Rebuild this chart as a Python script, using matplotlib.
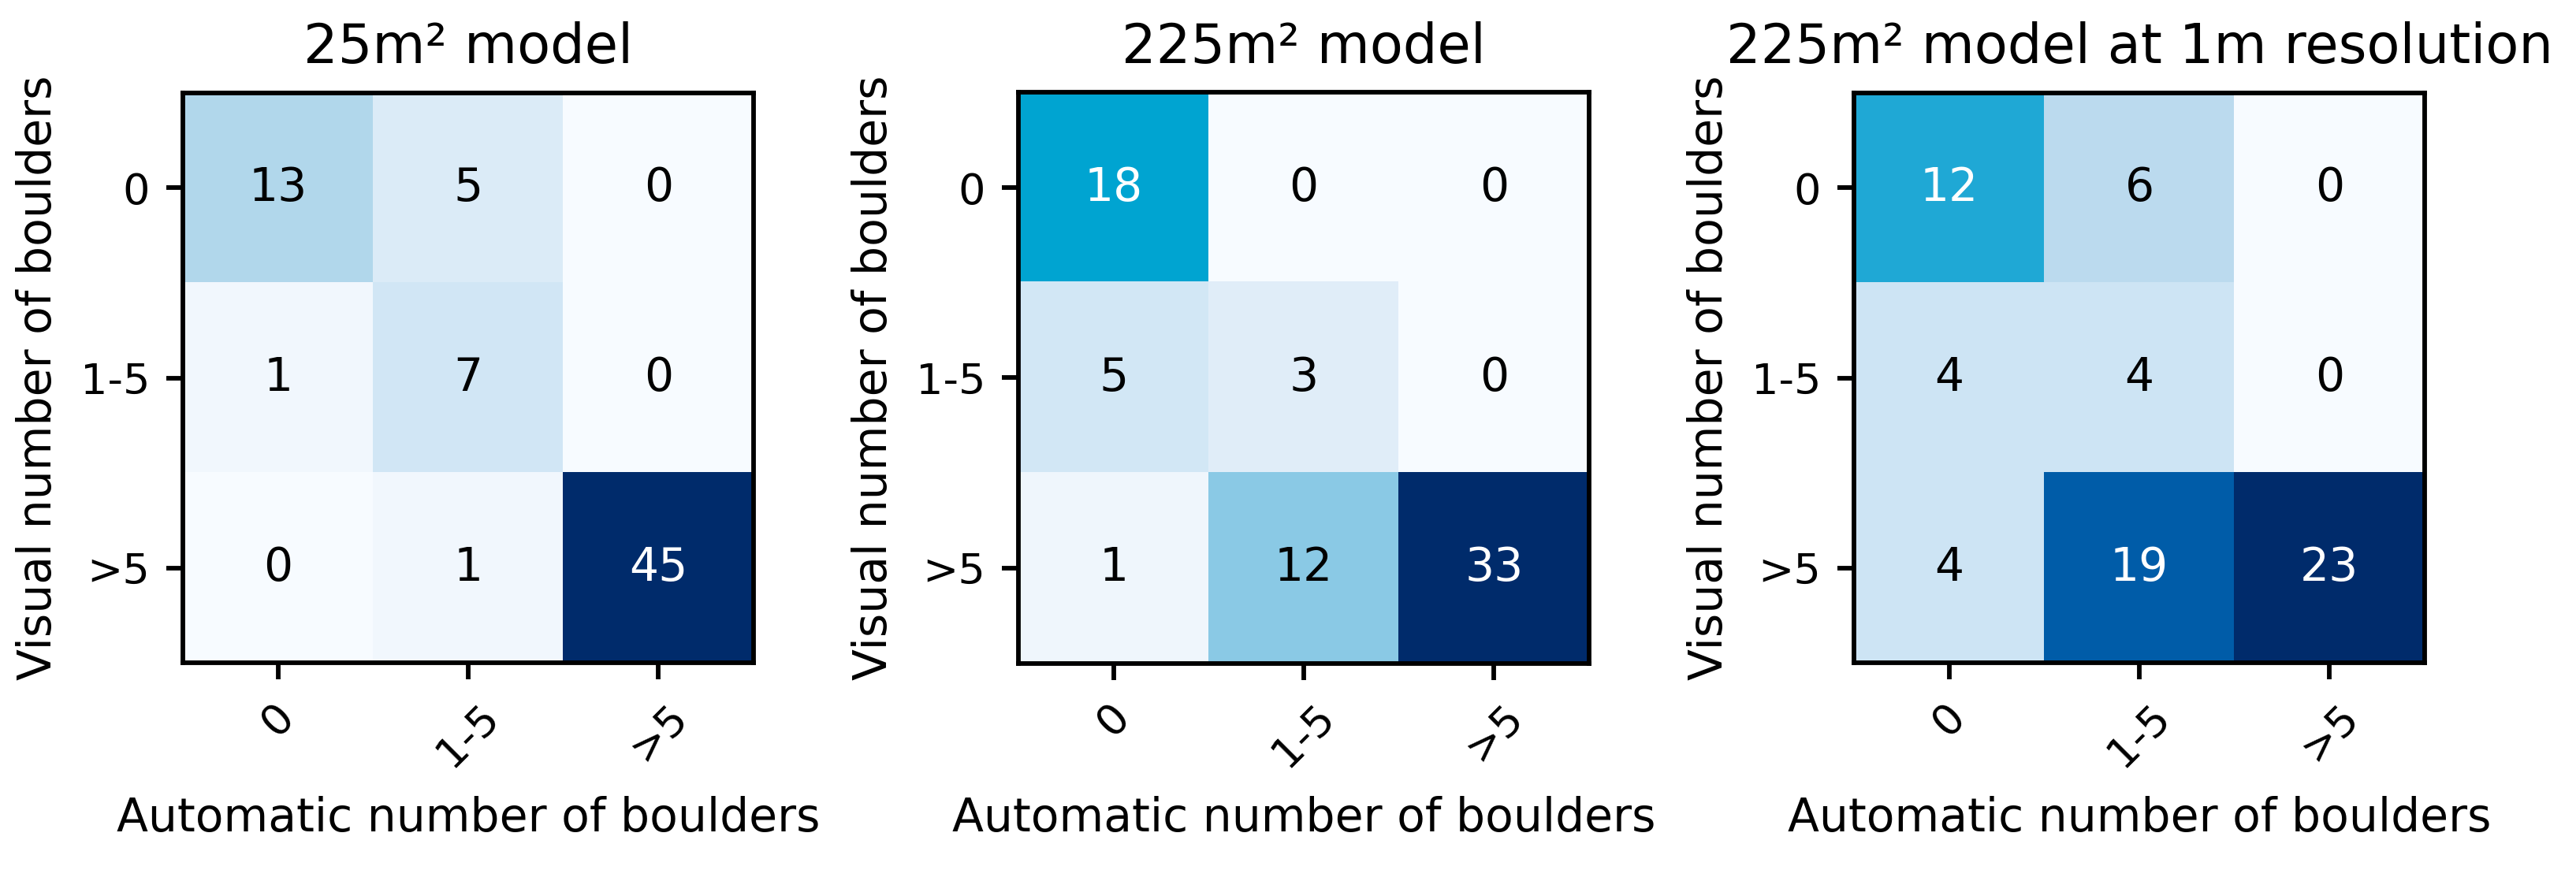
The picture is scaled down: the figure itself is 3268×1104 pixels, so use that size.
import numpy as np
import matplotlib
matplotlib.use("Agg")
import matplotlib.pyplot as plt
from matplotlib.colors import LinearSegmentedColormap

# ---- data ----
titles = ["25m² model", "225m² model", "225m² model at 1m resolution"]
class_labels = ["0", "1-5", ">5"]
cm_25 = [[13, 5, 0],
         [1, 7, 0],
         [0, 1, 45]]
cm_225 = [[18, 0, 0],
          [5, 3, 0],
          [1, 12, 33]]
cm_225_1m = [[12, 6, 0],
             [4, 4, 0],
             [4, 19, 23]]
matrices = [cm_25, cm_225, cm_225_1m]
xlabel = "Automatic number of boulders"
ylabel = "Visual number of boulders"

# colormap approximating the (saturated) blues in the reference
anchors = [(0.0, "#f7fbff"), (0.03, "#eff6fc"), (0.10, "#deecf8"),
           (0.16, "#d0e6f5"), (0.26, "#bbdaee"), (0.29, "#b0d7eb"),
           (0.36, "#8ecae6"), (0.52, "#22a9d6"), (0.545, "#00a5d2"),
           (0.83, "#005ca8"), (1.0, "#002b6b")]
cmap = LinearSegmentedColormap.from_list("boost_blues", anchors)

plt.rcParams['font.family'] = ['DejaVu Sans']
W, H = 3268, 1104
dpi = 300
fig = plt.figure(figsize=(W / dpi, H / dpi), dpi=dpi)

lefts = [232, 1292, 2352]
aw, ah = 724, 725
bottom_px = H - 842

for i, (mat, title) in enumerate(zip(matrices, titles)):
    m = np.array(mat)
    ax = fig.add_axes([lefts[i] / W, bottom_px / H, aw / W, ah / H])
    ax.imshow(m, cmap=cmap, interpolation='nearest', vmin=0, vmax=m.max())
    ax.set_title(title, fontsize=16.5, pad=9)
    ticks = np.arange(len(class_labels))
    ax.set_xticks(ticks)
    ax.set_xticklabels(class_labels, rotation=45)
    ax.set_yticks(ticks)
    ax.set_yticklabels(class_labels)
    thresh = m.max() / 2.0
    for r in range(m.shape[0]):
        for c in range(m.shape[1]):
            ax.text(c, r, format(m[r, c], 'd'), ha='center', va='center',
                    fontsize=14,
                    color='white' if m[r, c] > thresh else 'black')
    ax.set_xlabel(xlabel, fontsize=14, labelpad=6.5)
    ax.set_ylabel(ylabel, fontsize=14, labelpad=6)
    ax.tick_params(labelsize=13, length=5, width=1.4, pad=5)
    for s in ax.spines.values():
        s.set_linewidth(1.4)

fig.savefig("out.png", dpi=dpi)
